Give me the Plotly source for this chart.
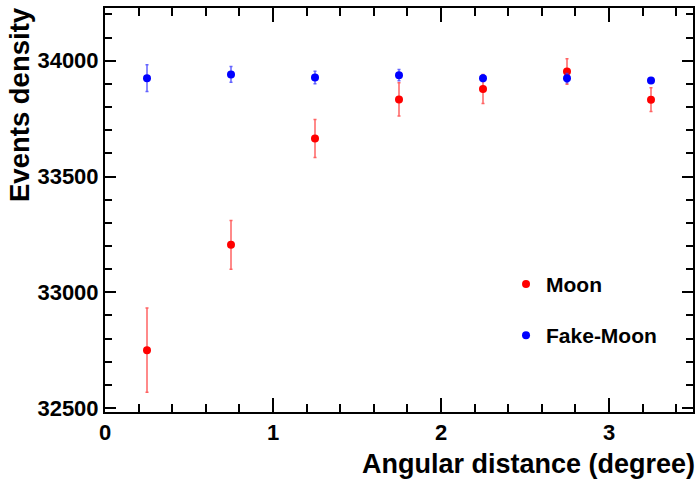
import plotly.graph_objects as go

angle = [0.25, 0.75, 1.25, 1.75, 2.25, 2.75, 3.25]
moon = [32750, 33205, 33664, 33833, 33878, 33954, 33832]
moon_err = [182, 105, 82, 72, 63, 55, 51]
fake = [33925, 33941, 33928, 33938, 33925, 33925, 33915]
fake_err = [58, 34, 27, 24, 15, 20, 12]
x_ticks = [0, 1, 2, 3]
y_ticks = [32500, 33000, 33500, 34000]

FONT = "Liberation Sans"

fig = go.Figure()
fig.add_trace(go.Scatter(
    x=angle, y=moon, mode="markers", name="Moon", legendgroup="a",
    marker=dict(color="#ff0000", size=8),
    error_y=dict(type="data", array=moon_err, color="rgba(255,60,60,0.8)", thickness=1.5, width=1.5),
))
fig.add_trace(go.Scatter(
    x=angle, y=fake, mode="markers", name="Fake-Moon", legendgroup="b",
    marker=dict(color="#0000ff", size=8),
    error_y=dict(type="data", array=fake_err, color="rgba(60,60,255,0.8)", thickness=1.5, width=1.5),
))

axis_common = dict(
    showline=True, linecolor="black", linewidth=2, mirror="allticks",
    ticks="inside", tickwidth=2, tickcolor="black",
    showgrid=False, zeroline=False,
    tickfont=dict(family=FONT, size=22, color="black", weight="bold"),
)

fig.update_xaxes(range=[0, 3.5], tickvals=x_ticks, ticktext=[str(v) for v in x_ticks], ticklen=14,
                 minor=dict(dtick=0.2, tick0=0, ticks="inside", ticklen=8, tickwidth=2, tickcolor="black"),
                 **axis_common)
fig.update_yaxes(range=[32483, 34228], tickvals=y_ticks, ticktext=[str(v) for v in y_ticks], ticklen=11,
                 minor=dict(dtick=100, tick0=32500, ticks="inside", ticklen=7, tickwidth=2, tickcolor="black"),
                 ticklabelstandoff=0,
                 **axis_common)

fig.add_annotation(text="Angular distance (degree)", xref="paper", yref="paper",
                   x=1.0065, y=-0.087, xanchor="right", yanchor="top", showarrow=False,
                   font=dict(family=FONT, size=27, color="black", weight="bold"))
fig.add_annotation(text="Events density", xref="paper", yref="paper",
                   x=-0.145, y=1.008, xanchor="center", yanchor="top", textangle=-90, showarrow=False,
                   font=dict(family=FONT, size=27.5, color="black", weight="bold"))

fig.update_layout(
    width=699, height=480,
    margin=dict(l=105, r=4, t=8, b=68),
    plot_bgcolor="white", paper_bgcolor="white",
    showlegend=True,
    legend=dict(x=0.682, y=0.367, xanchor="left", yanchor="top", bgcolor="rgba(0,0,0,0)",
                font=dict(family=FONT, size=21, color="black", weight="bold"),
                tracegroupgap=21),
)

fig.write_html("out.html")
